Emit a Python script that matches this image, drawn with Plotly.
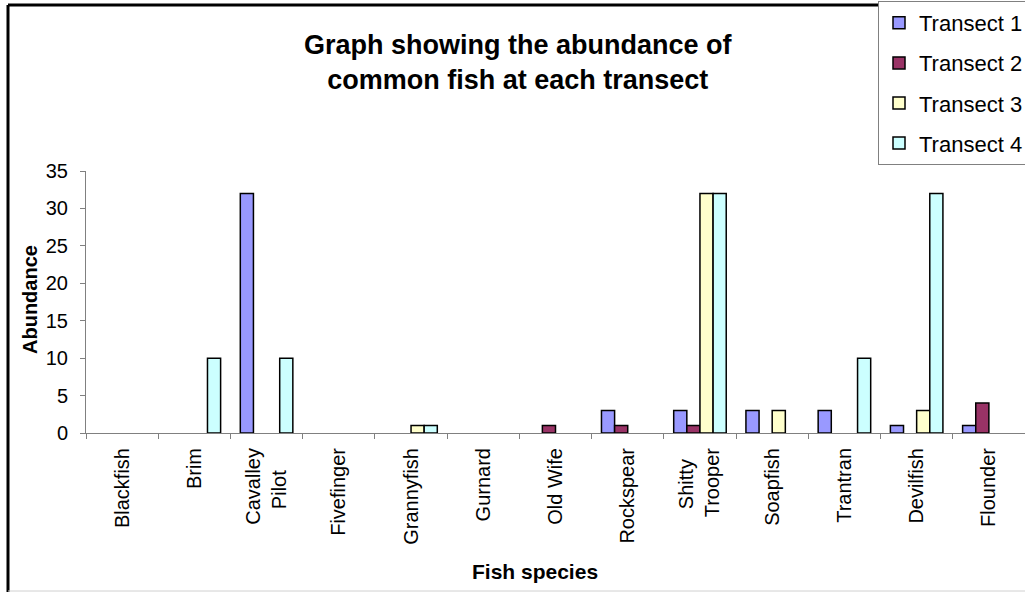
import plotly.graph_objects as go

# Fish counts per species at each transect (blank = none recorded)
species = ["Blackfish", "Brim", "Cavalley<br>Pilot\u00a0\u00a0\u00a0\u00a0", "Fivefinger", "Grannyfish",
           "Gurnard", "Old Wife", "Rockspear", "Shitty\u00a0\u00a0<br>Trooper", "Soapfish",
           "Trantran", "Devilfish", "Flounder"]
transect_1 = [None, None, 32, None, None, None, None, 3, 3, 3, 3, 1, 1]
transect_2 = [None, None, None, None, None, None, 1, 1, 1, None, None, None, 4]
transect_3 = [None, None, None, None, 1, None, None, None, 32, 3, None, 3, None]
transect_4 = [None, 10, 10, None, 1, None, None, None, 32, None, 10, 32, None]

series = [("Transect 1", transect_1, "#9999FF"),
          ("Transect 2", transect_2, "#993366"),
          ("Transect 3", transect_3, "#FFFFCC"),
          ("Transect 4", transect_4, "#CCFFFF")]

FONT = "Liberation Sans, Arial, sans-serif"
W, H = 1025, 592
L, R, T, B = 86, 0, 171, 159
PW, PH = W - L - R, H - T - B


def px(x):
    return (x - L) / PW


def py(y):
    return (H - B - y) / PH


fig = go.Figure()
for i, (name, vals, color) in enumerate(series):
    fig.add_trace(go.Bar(
        x=species, y=vals, name=name, legendgroup=f"g{i}",
        marker=dict(color=color, line=dict(color="black", width=1.5)),
    ))

fig.update_layout(
    width=W, height=H,
    margin=dict(l=L, r=R, t=T, b=B, autoexpand=False),
    paper_bgcolor="white", plot_bgcolor="white",
    barmode="group", bargap=1.5 / 5.5, bargroupgap=0,
    font=dict(family=FONT, color="black"),
    showlegend=True,
    legend=dict(
        x=px(878), y=py(1), xanchor="left", yanchor="top",
        bgcolor="white", bordercolor="#808080", borderwidth=1,
        font=dict(size=22, family=FONT, color="black"),
        tracegroupgap=8.5, traceorder="grouped",
    ),
    xaxis=dict(
        type="category", tickson="boundaries", ticks="outside", ticklen=5,
        tickcolor="#808080", showline=True, linecolor="#808080", linewidth=1,
        showgrid=False, tickangle=-90, ticklabelstandoff=6,
        tickfont=dict(size=20, family=FONT, color="black"),
        range=[-0.5, len(species) - 0.5],
    ),
    yaxis=dict(
        range=[0, 35], dtick=5, ticks="outside", ticklen=5, tickcolor="#808080",
        showline=True, linecolor="#808080", linewidth=1, showgrid=False,
        zeroline=False, ticklabelstandoff=8,
        tickfont=dict(size=20, family=FONT, color="black"),
    ),
    annotations=[
        dict(text="<b>Graph showing the abundance of<br>common fish at each transect</b>",
             x=px(518), y=py(62), xref="paper", yref="paper", showarrow=False,
             xanchor="center", yanchor="middle", align="center",
             font=dict(size=27, family=FONT, color="black")),
        dict(text="<b>Abundance</b>", textangle=-90,
             x=px(30), y=py(300), xref="paper", yref="paper", showarrow=False,
             xanchor="center", yanchor="middle",
             font=dict(size=20, family=FONT, color="black")),
        dict(text="<b>Fish species</b>",
             x=px(535), y=py(571), xref="paper", yref="paper", showarrow=False,
             xanchor="center", yanchor="middle",
             font=dict(size=21, family=FONT, color="black")),
    ],
    shapes=[
        # chart frame
        dict(type="line", xref="paper", yref="paper", x0=px(8), x1=px(8),
             y0=py(5), y1=py(600), line=dict(color="black", width=3)),
        dict(type="line", xref="paper", yref="paper", x0=px(8), x1=px(1040),
             y0=py(5), y1=py(5), line=dict(color="black", width=3)),
        dict(type="line", xref="paper", yref="paper", x0=px(8), x1=px(1040),
             y0=py(591), y1=py(591), line=dict(color="#d0d0d0", width=1)),
    ],
)

fig.write_html("out.html")
